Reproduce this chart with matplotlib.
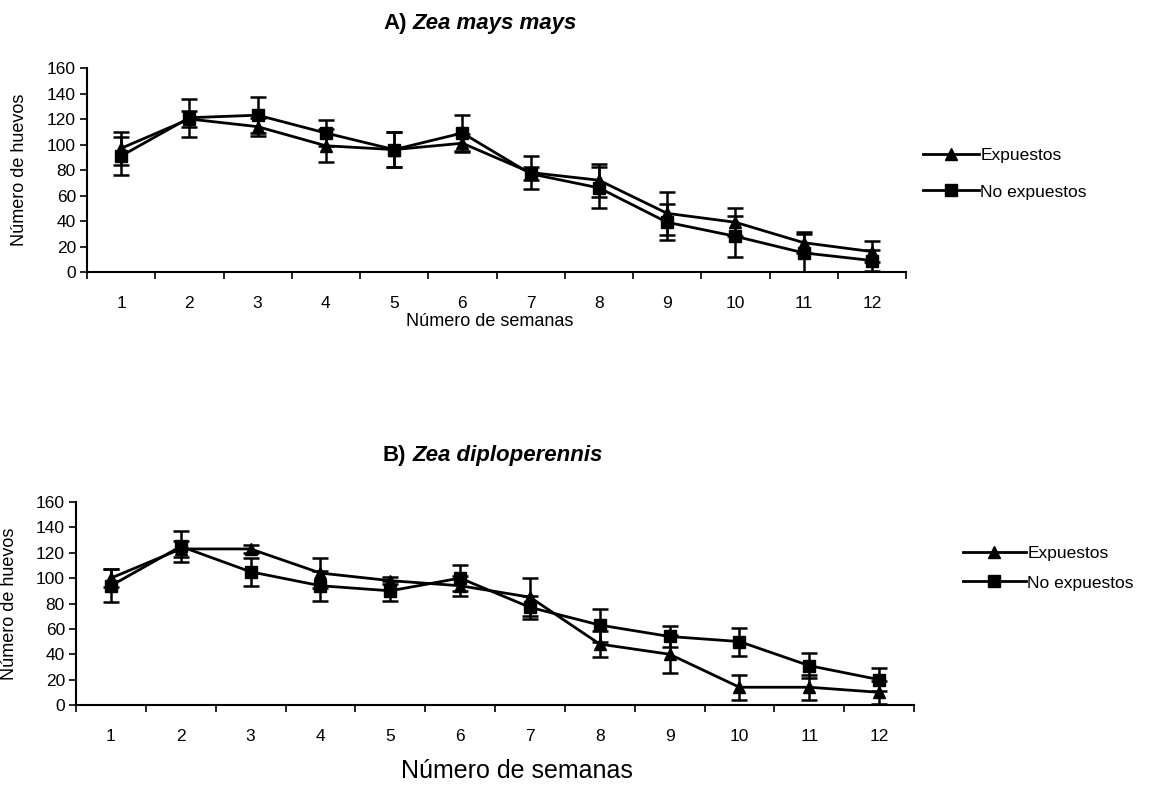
import numpy as np
import matplotlib
matplotlib.use("Agg")
import matplotlib.pyplot as plt
from matplotlib.lines import Line2D

plt.rcParams['font.family'] = ['Liberation Sans', 'DejaVu Sans']

weeks = list(range(1, 13))
week_labels = [str(w) for w in weeks]

# A) Zea mays mays
a_exp = [97, 120, 114, 99, 96, 101, 78, 72, 46, 39, 23, 16]
a_exp_err = [13, 6, 7, 13, 14, 7, 13, 13, 17, 11, 8, 8]
a_noexp = [91, 121, 123, 109, 96, 109, 77, 66, 39, 28, 15, 9]
a_noexp_err = [15, 15, 14, 10, 14, 14, 5, 16, 14, 16, 15, 8]

# B) Zea diploperennis
b_exp = [100, 123, 123, 104, 98, 94, 85, 48, 40, 14, 14, 10]
b_exp_err = [7, 6, 3, 12, 3, 8, 15, 10, 15, 10, 10, 9]
b_noexp = [94, 125, 105, 94, 90, 100, 77, 63, 54, 50, 31, 20]
b_noexp_err = [13, 12, 11, 12, 8, 10, 9, 13, 8, 11, 10, 9]

yticks = list(range(0, 161, 20))
series_names = ["Expuestos", "No expuestos"]

W, H = 1152, 787
fig = plt.figure(figsize=(W / 100, H / 100), dpi=100)
# axes boxes in pixels: left, right, top(160), bottom(0)
axA = fig.add_axes([87 / W, 1 - 272 / H, (906 - 87) / W, (272 - 68) / H])
axB = fig.add_axes([76 / W, 1 - 705 / H, (914 - 76) / W, (705 - 502) / H])


def draw(ax, exp, exp_err, noexp, noexp_err):
    kw = dict(color="black", lw=2, capsize=6, capthick=1.8, elinewidth=1.8)
    ax.errorbar(weeks, noexp, yerr=noexp_err, marker="s", ms=8.5, **kw)
    ax.errorbar(weeks, exp, yerr=exp_err, marker="^", ms=9, **kw)
    ax.set_xlim(0.5, 12.5)
    ax.set_ylim(0, 160)
    ax.set_yticks(yticks)
    ax.set_xticks(weeks)
    ax.set_xticklabels(week_labels, fontsize=12.5)
    ax.tick_params(axis="x", length=0, pad=17)
    ax.set_xticks(np.arange(0.5, 13, 1), minor=True)
    ax.tick_params(axis="x", which="minor", length=5, width=1.2, direction="out")
    ax.tick_params(axis="y", labelsize=12.5, length=5, width=1.2, direction="out", pad=3)
    for s in ("top", "right"):
        ax.spines[s].set_visible(False)
    for s in ("left", "bottom"):
        ax.spines[s].set_linewidth(1.5)


def legend(x_px, y_px, handlelength, labelspacing):
    handles = [Line2D([], [], color="black", lw=2, marker="^", ms=9),
               Line2D([], [], color="black", lw=2, marker="s", ms=8.5)]
    fig.legend(handles, series_names, loc="center left",
               bbox_to_anchor=(x_px / W, 1 - y_px / H), frameon=False, fontsize=12.5,
               handlelength=handlelength, handletextpad=0.1, labelspacing=labelspacing,
               borderpad=0, borderaxespad=0)


def title(x_px, y_px, prefix, species):
    t1 = fig.text(x_px / W, 1 - y_px / H, prefix, ha="left", va="center",
                  fontsize=16, fontweight="bold")
    bb = t1.get_window_extent(fig.canvas.get_renderer())
    fig.text((bb.x1 + 6) / W, 1 - y_px / H, species, ha="left", va="center",
             fontsize=16, fontweight="bold", style="italic")


draw(axA, a_exp, a_exp_err, a_noexp, a_noexp_err)
draw(axB, b_exp, b_exp_err, b_noexp, b_noexp_err)

axA.set_ylabel("Número de huevos", fontsize=13)
axA.yaxis.set_label_coords((28 - 87) / (906 - 87), 0.5)
axA.set_xlabel("Número de semanas", fontsize=13)
axA.xaxis.set_label_coords((490 - 87) / (906 - 87), -(313 - 272) / (272 - 68))

axB.set_ylabel("Número de huevos", fontsize=13)
axB.yaxis.set_label_coords((18 - 76) / (914 - 76), 0.5)
axB.set_xlabel("Número de semanas", fontsize=18)
axB.xaxis.set_label_coords((517 - 76) / (914 - 76), -(759 - 705) / (705 - 502))

legend(923, 173.5, 3.2, 1.25)
legend(963, 568, 3.6, 0.85)

title(383, 23, "A)", "Zea mays mays")
title(383, 456, "B)", "Zea diploperennis")

fig.savefig("out.png", dpi=100, facecolor="white")
